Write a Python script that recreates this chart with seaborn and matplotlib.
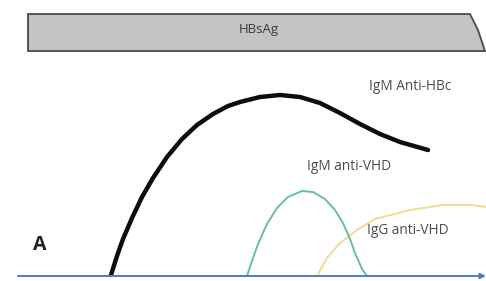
import matplotlib
matplotlib.use("Agg")
import matplotlib.pyplot as plt
import seaborn as sns
import pandas as pd
from matplotlib.patches import Polygon

# ---- data (time on x, level above baseline on y) ----
igm_hbc_t = [111, 117, 123, 132, 142, 153, 167, 182, 197, 213, 228, 240, 260,
             280, 300, 320, 340, 360, 380, 400, 428]
igm_hbc_v = [1, 20, 37, 58, 79, 98, 119, 137, 151, 162, 170, 174, 179,
             181, 179, 173, 163, 152, 142, 134, 126]

igm_vhd_t = [247, 252, 258, 267, 277, 288, 302, 313, 325, 335, 343, 350, 355, 362, 367]
igm_vhd_v = [0, 15, 32, 52, 68, 79, 85, 84, 77, 66, 53, 37, 23, 7, 0]

igg_vhd_t = [317, 327, 340, 357, 375, 410, 443, 470, 486]
igg_vhd_v = [0, 18, 33, 46, 57, 66, 71, 71, 69]

hbsag_x = [28, 470, 478, 485, 28]
hbsag_y = [262, 262, 246, 225, 225]

labels = ["IgM Anti-HBc", "IgM anti-VHD", "IgG anti-VHD"]
label_pos = [(410, 189), (349, 110), (408, 45)]

sns.set_theme(style="white")
plt.rcParams['font.family'] = ['Open Sans', 'DejaVu Sans']

fig = plt.figure(figsize=(4.86, 2.81), dpi=100)
ax = fig.add_axes([0, 0, 1, 1])
ax.set_xlim(0, 486)
ax.set_ylim(-5, 276)
ax.axis("off")

# HBsAg bar
poly = Polygon(list(zip(hbsag_x, hbsag_y)), closed=True,
               facecolor="#c3c3c3", edgecolor="#4a4a4a", lw=1.3)
ax.add_patch(poly)
ax.text(259, 246, "HBsAg", ha="center", va="center", fontsize=9.5, color="#3a3a3a")

# baseline axis with arrow
ax.annotate("", xy=(486, 0), xytext=(18, 0),
            arrowprops=dict(arrowstyle="-|>", color="#4f7cc0", lw=1.4,
                            mutation_scale=8, shrinkA=0, shrinkB=0))

df1 = pd.DataFrame({"t": igm_hbc_t, "v": igm_hbc_v})
df2 = pd.DataFrame({"t": igm_vhd_t, "v": igm_vhd_v})
df3 = pd.DataFrame({"t": igg_vhd_t, "v": igg_vhd_v})

sns.lineplot(data=df3, x="t", y="v", ax=ax, color="#f1dc8c", lw=1.4, sort=False,
             solid_joinstyle="round")
sns.lineplot(data=df2, x="t", y="v", ax=ax, color="#68bf9e", lw=1.4, sort=False,
             solid_joinstyle="round")
sns.lineplot(data=df1, x="t", y="v", ax=ax, color="#0d0d0d", lw=3.2, sort=False,
             solid_capstyle="round", solid_joinstyle="round")

for lab, (x, y) in zip(labels, label_pos):
    ax.text(x, y, lab, ha="center", va="center", fontsize=9.8, color="#4a4a4a")

ax.text(40, 31, "A", ha="center", va="center", fontsize=14, fontweight="bold",
        color="#222222")

fig.savefig("out.png", dpi=100)
